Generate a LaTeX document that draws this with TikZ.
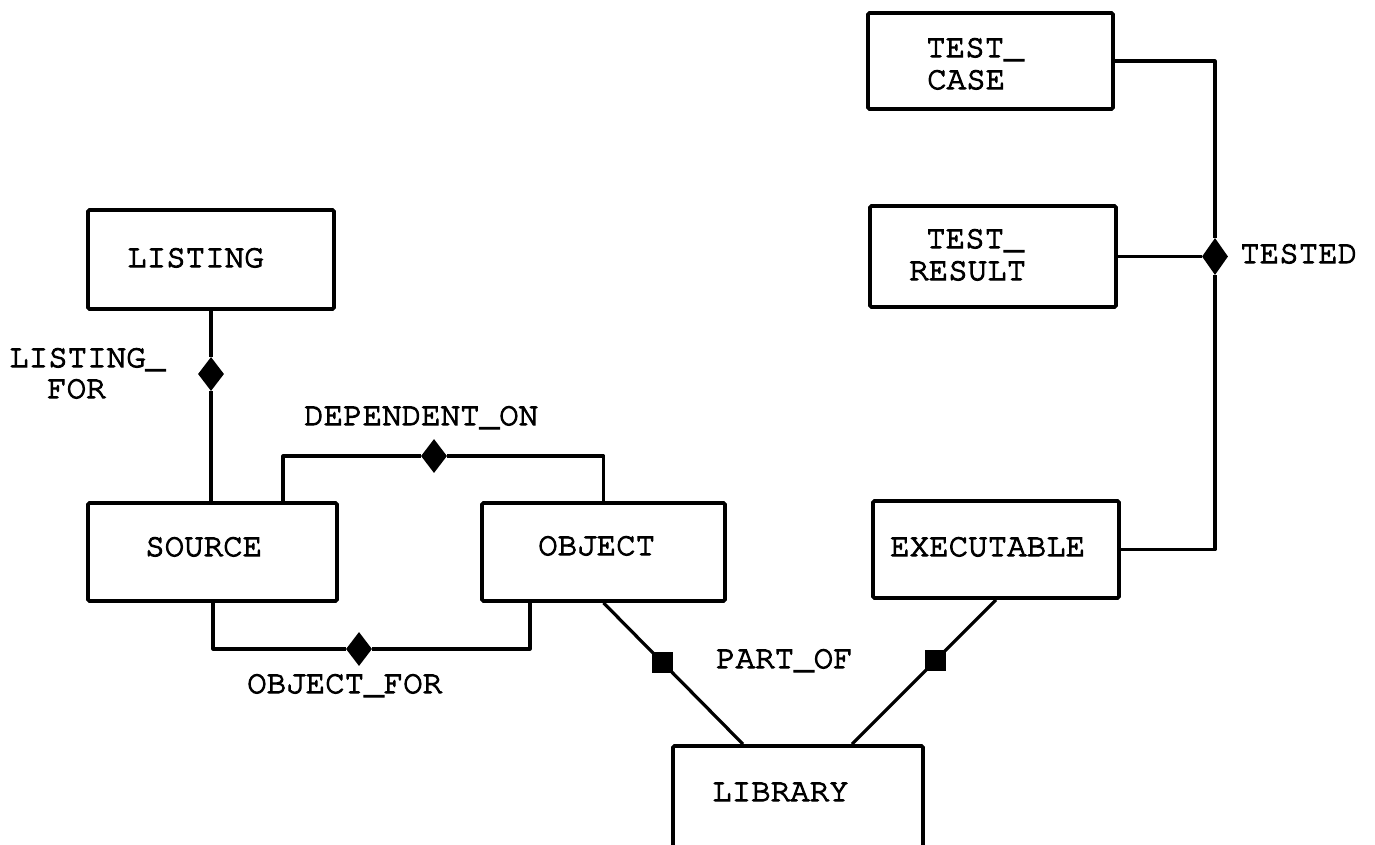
\documentclass[tikz,border=0pt]{standalone}
\usepackage[T1]{fontenc}
\usepackage{courier}
\usetikzlibrary{shapes.geometric}

% typewriter lettering used for every entity and relationship name
\newcommand\erfont{\fontsize{32.5}{34}\selectfont\ttfamily}
% slightly heavier strokes: fill the glyphs and also outline them
\newcommand\inkon{\special{pdf:literal direct 2 Tr 1.1 w}}
\newcommand\inkoff{\special{pdf:literal direct 0 Tr}}

\tikzset{
  entity/.style={rectangle, draw, line width=3.6pt, rounded corners=1.5pt, inner sep=0pt},
  conn/.style={line width=3.2pt, line join=round},
  rel/.style={diamond, fill=black, draw=none, inner sep=0pt,
              minimum width=26pt, minimum height=34pt},
  relslant/.style={diamond, fill=black, draw=none, inner sep=0pt,
                   minimum width=31pt, minimum height=31pt, rotate=45},
  lbl/.style={inner sep=0pt, anchor=base west, font=\erfont,
              execute at begin node=\inkon, execute at end node=\inkoff},
}

\begin{document}
\begin{tikzpicture}[x=1pt, y=-1pt]
\useasboundingbox (0,0) rectangle (1375,844);
\clip (0,0) rectangle (1375,844);

% entity boxes
\node[entity, minimum width=245pt, minimum height=96pt]  (tcase)   at (990.5,61)   {};
\node[entity, minimum width=246pt, minimum height=101pt] (tresult) at (993,256.5)  {};
\node[entity, minimum width=246pt, minimum height=99pt]  (listing) at (211,259.5)  {};
\node[entity, minimum width=249pt, minimum height=98pt]  (source)  at (212.5,552)  {};
\node[entity, minimum width=243pt, minimum height=98pt]  (object)  at (603.5,552)  {};
\node[entity, minimum width=246pt, minimum height=97pt]  (exec)    at (996,549.5)  {};
\node[entity, minimum width=250pt, minimum height=102pt] (library) at (798,797)    {};

% entity names
\node[lbl] (tcaseA)   at (926,57)  {TEST\_};
\node[lbl] (tcaseB)   at (927,89)  {CASE};
\node[lbl] (tresultA) at (926,248) {TEST\_};
\node[lbl] (tresultB) at (909,280) {RESULT};
\node[lbl] (listingT) at (127,267) {LISTING};
\node[lbl] (sourceT)  at (145,556) {SOURCE};
\node[lbl] (objectT)  at (538,555) {OBJECT};
\node[lbl] (execT)    at (890,556) {EXECUTABLE};
\node[lbl] (libraryT) at (712,801) {LIBRARY};

% relationship diamonds
\node[rel] (dList)   at (211,374)   {};
\node[rel] (dDep)    at (434,456)   {};
\node[rel] (dObjFor) at (359,649)   {};
\node[rel, minimum height=37pt] (dTest) at (1215,256.5) {};

% connectors
\draw[conn] (listing.south) -- (dList) -- (listing.south |- source.north);
\draw[conn] ([xshift=70.5pt]source.north) |- (dDep) -| (object.north);
\draw[conn] ([xshift=0.5pt]source.south) |- (dObjFor) -| ([xshift=-73.5pt]object.south);
\draw[conn] (object.south) -- node[relslant, pos=0.42] (dPart1) {} ([xshift=-55pt]library.north);
\draw[conn] (exec.south) -- node[relslant, pos=0.42] (dPart2) {} ([xshift=54pt]library.north);
\draw[conn] (tcase.east) -| (dTest);
\draw[conn] (tresult.east) -- (dTest);
\draw[conn] (dTest) |- (exec.east);

% relationship names
\node[lbl] (listForA) at (9,367)    {LISTING\_};
\node[lbl] (listForB) at (47,398)   {FOR};
\node[lbl] (depOn)    at (304,425)  {DEPENDENT\_ON};
\node[lbl] (objFor)   at (247,693)  {OBJECT\_FOR};
\node[lbl] (partOf)   at (716,668)  {PART\_OF};
\node[lbl] (tested)   at (1240,263) {TESTED};
\end{tikzpicture}
\end{document}
